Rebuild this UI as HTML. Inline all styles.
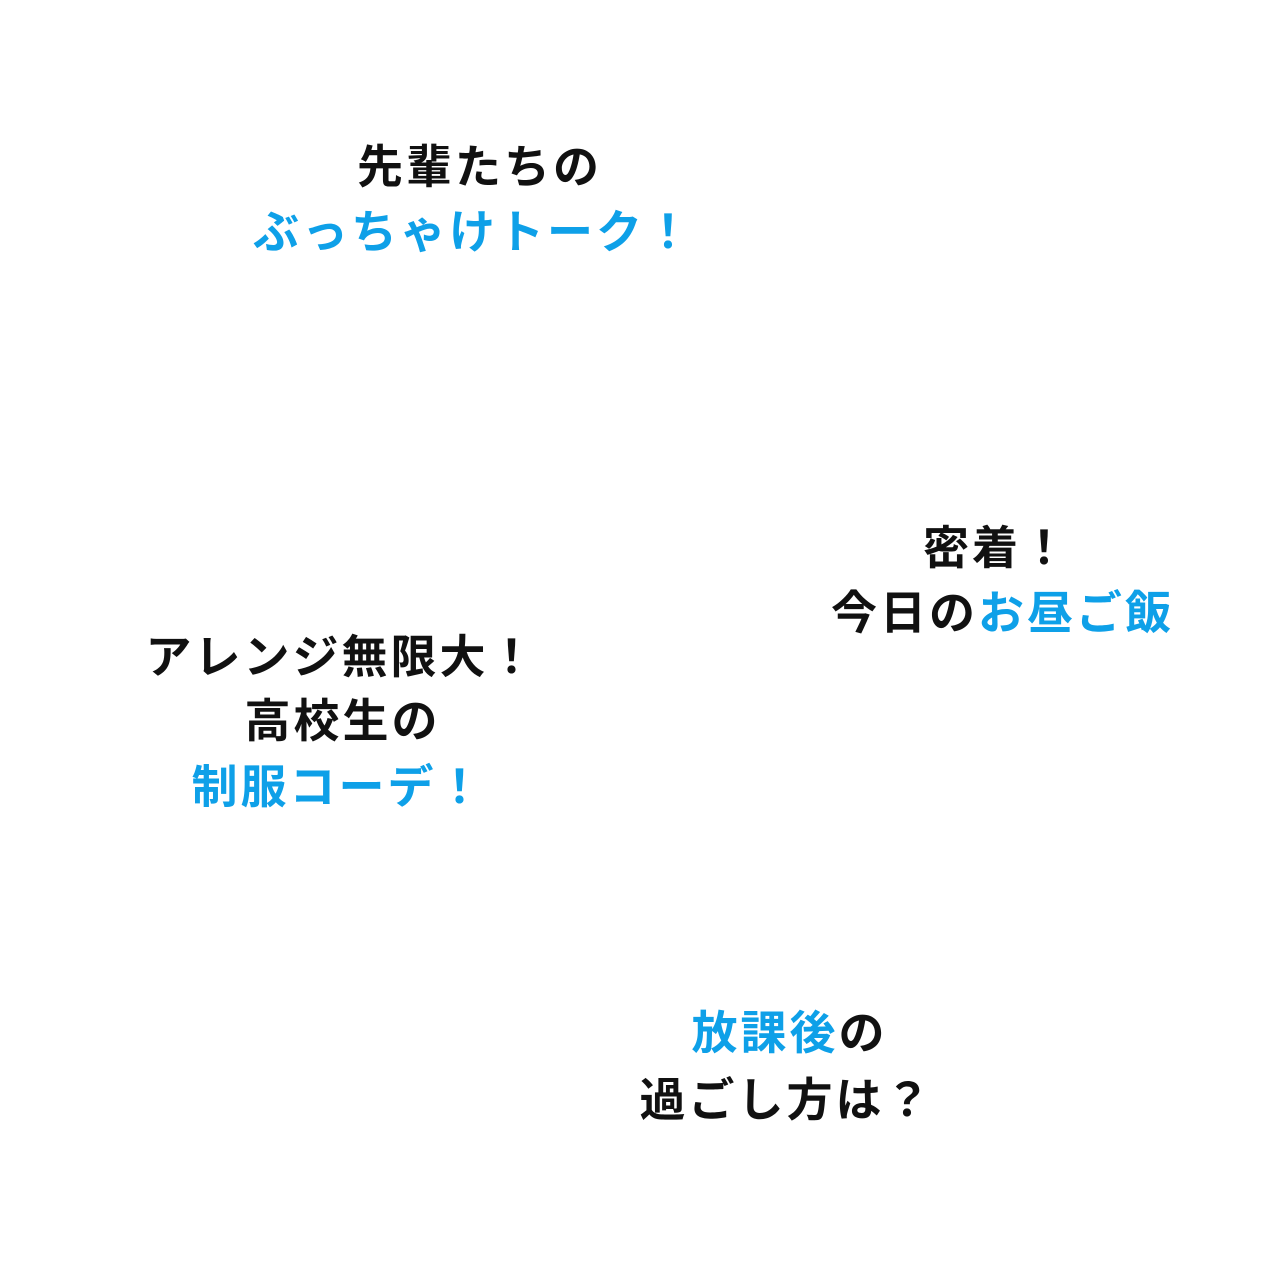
<!DOCTYPE html>
<html><head><meta charset="utf-8"><style>
html,body{margin:0;padding:0;background:#fff;}
body{width:1280px;height:1268px;position:relative;overflow:hidden;font-family:"Liberation Sans","Noto Sans CJK JP",sans-serif;font-weight:700;}
.l{position:absolute;width:800px;text-align:center;font-size:46px;line-height:65px;letter-spacing:3px;padding-left:3px;box-sizing:border-box;color:#111;white-space:nowrap;}
.b{color:#0ea0e8;}
</style></head><body>
<div class="l" style="left:78px;top:135px">先輩たちの</div>
<div class="l b" style="left:72px;top:200px">ぶっちゃけトーク！</div>
<div class="l" style="left:595px;top:516px">密着！</div>
<div class="l" style="left:601px;top:581px">今日の<span class="b">お昼ご飯</span></div>
<div class="l" style="left:-60px;top:625px">アレンジ無限大！</div>
<div class="l" style="left:-59px;top:689px">高校生の</div>
<div class="l b" style="left:-63px;top:755px">制服コーデ！</div>
<div class="l" style="left:388px;top:1001px"><span class="b">放課後</span>の</div>
<div class="l" style="left:385px;top:1068px">過ごし方は？</div>
</body></html>
